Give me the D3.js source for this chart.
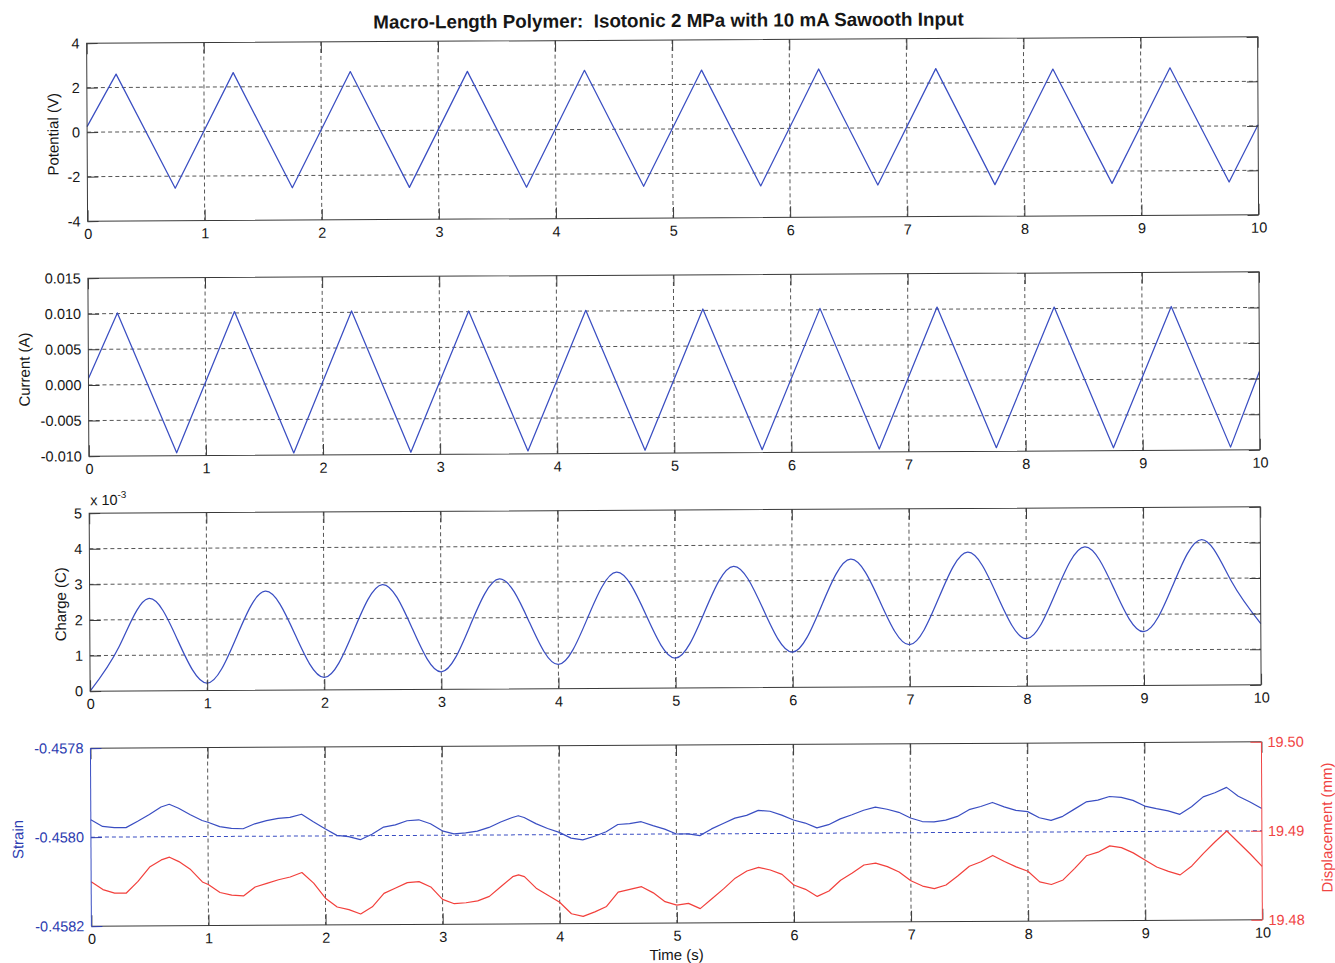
<!DOCTYPE html>
<html>
<head>
<meta charset="utf-8">
<script src="https://cdn.jsdelivr.net/npm/d3@7"></script>
<style>
  html, body { margin: 0; padding: 0; background: #fff; }
  svg { display: block; font-family: "Liberation Sans", Arial, Helvetica, sans-serif; }
</style>
</head>
<body>
<svg id="chart" width="1335" height="963"></svg>
<script>
// ---------- tick values ----------
const timeTicks = [0, 1, 2, 3, 4, 5, 6, 7, 8, 9, 10];
const potentialTicks = [-4, -2, 0, 2, 4];
const currentTicks = [-0.010, -0.005, 0, 0.005, 0.010, 0.015];
const chargeTicks = [0, 0.001, 0.002, 0.003, 0.004, 0.005];
const strainTicks = [-0.4582, -0.4580, -0.4578];
const displacementTicks = [19.48, 19.49, 19.50];

// ---------- sawtooth input: vertex times (s) ----------
const sawTime = [0, 0.25, 0.75, 1.25, 1.75, 2.25, 2.75, 3.25, 3.75, 4.25, 4.75,
                 5.25, 5.75, 6.25, 6.75, 7.25, 7.75, 8.25, 8.75, 9.25, 9.75, 10];
// potential (V)
const potential = [0.25, 2.60, -2.54, 2.64, -2.55, 2.66, -2.56, 2.64, -2.58, 2.66, -2.57,
                   2.64, -2.58, 2.66, -2.57, 2.65, -2.58, 2.60, -2.55, 2.63, -2.52, 0.05];
// current (A)
const current = [0.0009, 0.0101, -0.0096, 0.0102, -0.0097, 0.0102, -0.0097, 0.0101, -0.0096, 0.0101, -0.0096,
                 0.0102, -0.0096, 0.0102, -0.0096, 0.0103, -0.0095, 0.0102, -0.0096, 0.0102, -0.0096, 0.0010];

// ---------- charge (C) ----------
const chargeTime = [0, 0.25, 0.5, 0.75, 1, 1.25, 1.5, 1.75, 2, 2.25, 2.5, 2.75, 3, 3.25, 3.5, 3.75,
                    4, 4.25, 4.5, 4.75, 5, 5.25, 5.5, 5.75, 6, 6.25, 6.5, 6.75, 7, 7.25, 7.5, 7.75,
                    8, 8.25, 8.5, 8.75, 9, 9.25, 9.5, 9.75, 10];
const charge = [0.00000, 0.00125, 0.00259, 0.00142, 0.00021, 0.00148, 0.00278, 0.00158, 0.00035,
                0.00163, 0.00295, 0.00174, 0.00049, 0.00180, 0.00309, 0.00190, 0.00068, 0.00197,
                0.00326, 0.00206, 0.00084, 0.00213, 0.00341, 0.00221, 0.00099, 0.00229, 0.00359,
                0.00239, 0.00118, 0.00248, 0.00377, 0.00255, 0.00133, 0.00262, 0.00390, 0.00271,
                0.00151, 0.00280, 0.00409, 0.00292, 0.00172];

// ---------- strain / displacement ----------
const motionTime = [0, 0.1, 0.2, 0.3, 0.4, 0.5, 0.6, 0.67, 0.75, 0.85, 0.95, 1.0,
  1.1, 1.2, 1.3, 1.4, 1.5, 1.6, 1.7, 1.8, 1.9, 2.0,
  2.1, 2.2, 2.3, 2.4, 2.5, 2.6, 2.7, 2.8, 2.9, 3.0,
  3.1, 3.2, 3.3, 3.4, 3.5, 3.6, 3.65, 3.7, 3.8, 3.9, 4.0,
  4.1, 4.2, 4.3, 4.4, 4.5, 4.6, 4.7, 4.8, 4.9, 5.0,
  5.1, 5.2, 5.3, 5.4, 5.5, 5.6, 5.7, 5.8, 5.9, 6.0,
  6.1, 6.2, 6.3, 6.4, 6.5, 6.6, 6.7, 6.8, 6.9, 7.0,
  7.1, 7.2, 7.3, 7.4, 7.5, 7.6, 7.7, 7.8, 7.9, 8.0,
  8.1, 8.2, 8.3, 8.4, 8.5, 8.6, 8.7, 8.8, 8.9, 9.0,
  9.1, 9.2, 9.3, 9.4, 9.5, 9.6, 9.7, 9.8, 9.9, 10.0];
const strain = [-0.457961, -0.457976, -0.457979, -0.457979, -0.457965, -0.457950, -0.457933, -0.457927, -0.457936, -0.457951, -0.457964, -0.457968,
  -0.457978, -0.457982, -0.457983, -0.457972, -0.457965, -0.457960, -0.457958, -0.457951, -0.457968, -0.457984,
  -0.457999, -0.458002, -0.458009, -0.457997, -0.457981, -0.457976, -0.457967, -0.457965, -0.457974, -0.457990,
  -0.457997, -0.457995, -0.457991, -0.457983, -0.457971, -0.457961, -0.457957, -0.457961, -0.457975, -0.457986, -0.457995,
  -0.458008, -0.458012, -0.458004, -0.457994, -0.457978, -0.457976, -0.457972, -0.457981, -0.457989, -0.458000,
  -0.458000, -0.458004, -0.457989, -0.457977, -0.457965, -0.457959, -0.457948, -0.457950, -0.457959, -0.457970,
  -0.457977, -0.457988, -0.457981, -0.457968, -0.457959, -0.457949, -0.457942, -0.457947, -0.457954, -0.457967,
  -0.457975, -0.457976, -0.457972, -0.457964, -0.457949, -0.457942, -0.457933, -0.457943, -0.457951, -0.457954,
  -0.457968, -0.457974, -0.457965, -0.457949, -0.457933, -0.457929, -0.457921, -0.457923, -0.457930, -0.457943,
  -0.457949, -0.457954, -0.457962, -0.457945, -0.457923, -0.457914, -0.457902, -0.457922, -0.457935, -0.457950];
const displacement = [19.4850, 19.4841, 19.4837, 19.4837, 19.4850, 19.4866, 19.4874, 19.4877, 19.4872, 19.4863, 19.4849, 19.4846,
  19.4837, 19.4834, 19.4833, 19.4843, 19.4847, 19.4851, 19.4854, 19.4859, 19.4847, 19.4830,
  19.4820, 19.4817, 19.4812, 19.4820, 19.4835, 19.4841, 19.4847, 19.4848, 19.4842, 19.4828,
  19.4823, 19.4824, 19.4826, 19.4831, 19.4842, 19.4853, 19.4855, 19.4853, 19.4840, 19.4832, 19.4824,
  19.4811, 19.4808, 19.4813, 19.4819, 19.4835, 19.4838, 19.4841, 19.4834, 19.4824, 19.4820,
  19.4822, 19.4816, 19.4827, 19.4838, 19.4850, 19.4858, 19.4862, 19.4859, 19.4854, 19.4842,
  19.4837, 19.4829, 19.4835, 19.4847, 19.4855, 19.4864, 19.4866, 19.4862, 19.4856, 19.4846,
  19.4840, 19.4837, 19.4841, 19.4851, 19.4862, 19.4867, 19.4874, 19.4867, 19.4861, 19.4856,
  19.4844, 19.4841, 19.4846, 19.4859, 19.4873, 19.4877, 19.4884, 19.4882, 19.4876, 19.4868,
  19.4860, 19.4855, 19.4851, 19.4861, 19.4875, 19.4888, 19.4900, 19.4887, 19.4874, 19.4860];

// ---------- layout & style ----------
const plotLeft = 89, plotRight = 1260, panelH = 178;
const panelTops = [40, 275, 510, 745];
const tickLen = 11;
const frameColor = "#3a3a3a";
const gridColor = "#444";
const textColor = "#161616";
const lineBlue = "#3a4ec2";
const lineRed = "#f2403c";
const axisBlue = "#2c3cb0";
const axisRed = "#f04444";
const tickFont = 14.5;

const svg = d3.select("#chart");
svg.append("rect").attr("width", 1335).attr("height", 963).attr("fill", "#fff");
// the printed figure sits very slightly askew on the page
const root = svg.append("g").attr("transform", "rotate(-0.31,672,480)");

const x = d3.scaleLinear().domain([0, 10]).range([plotLeft, plotRight]);

function styleAxis(g, color) {
  g.attr("font-size", null).attr("font-family", null);
  g.select(".domain").remove();
  g.selectAll("line").attr("stroke", color).attr("stroke-width", 1);
  g.selectAll("text").attr("fill", color).attr("font-size", tickFont);
}

function xGrid(g, top) {
  g.append("g").selectAll("line")
    .data(timeTicks.slice(1, -1))
    .join("line")
    .attr("x1", d => x(d)).attr("x2", d => x(d))
    .attr("y1", top).attr("y2", top + panelH)
    .attr("stroke", gridColor).attr("stroke-width", 0.9)
    .attr("stroke-dasharray", "4,3");
}

function xAxes(g, top, color) {
  const bottom = g.append("g").attr("transform", `translate(0,${top + panelH})`)
    .call(d3.axisBottom(x).tickValues(timeTicks).tickSizeInner(-tickLen).tickSizeOuter(0)
      .tickPadding(7.5).tickFormat(d => String(d)));
  styleAxis(bottom, color);
  bottom.selectAll("text").attr("fill", textColor);
  const topAx = g.append("g").attr("transform", `translate(0,${top})`)
    .call(d3.axisTop(x).tickValues(timeTicks).tickSizeInner(-tickLen).tickSizeOuter(0).tickFormat(""));
  styleAxis(topAx, color);
}

// standard single-axis panel
function drawPanel(opts) {
  const top = opts.top;
  const g = root.append("g");
  const y = d3.scaleLinear().domain(opts.domain).range([top + panelH, top]);

  xGrid(g, top);
  g.append("g").selectAll("line")
    .data(opts.ticks.filter(d => d > opts.domain[0] && d < opts.domain[1]))
    .join("line")
    .attr("x1", plotLeft).attr("x2", plotRight)
    .attr("y1", d => y(d)).attr("y2", d => y(d))
    .attr("stroke", gridColor).attr("stroke-width", 0.9)
    .attr("stroke-dasharray", "4,3");

  const line = d3.line()
    .x((d, i) => x(opts.xs[i]))
    .y(d => y(d))
    .curve(opts.curve || d3.curveLinear);
  g.append("path").datum(opts.ys)
    .attr("d", line)
    .attr("fill", "none").attr("stroke", lineBlue).attr("stroke-width", 1.25)
    .attr("stroke-linejoin", "round");

  g.append("rect").attr("x", plotLeft).attr("y", top)
    .attr("width", plotRight - plotLeft).attr("height", panelH)
    .attr("fill", "none").attr("stroke", frameColor).attr("stroke-width", 1);

  xAxes(g, top, frameColor);
  const left = g.append("g").attr("transform", `translate(${plotLeft},0)`)
    .call(d3.axisLeft(y).tickValues(opts.ticks).tickSizeInner(-tickLen).tickSizeOuter(0)
      .tickPadding(7).tickFormat(opts.format));
  styleAxis(left, frameColor);
  left.selectAll("text").attr("fill", textColor);
  const right = g.append("g").attr("transform", `translate(${plotRight},0)`)
    .call(d3.axisRight(y).tickValues(opts.ticks).tickSizeInner(-tickLen).tickSizeOuter(0).tickFormat(""));
  styleAxis(right, frameColor);

  g.append("text")
    .attr("transform", `translate(${opts.labelX},${top + panelH / 2 + 2}) rotate(-90)`)
    .attr("text-anchor", "middle").attr("dy", "0.35em")
    .attr("font-size", 15).attr("fill", textColor)
    .text(opts.label);
  return g;
}

drawPanel({
  top: panelTops[0], domain: [-4, 4], ticks: potentialTicks,
  format: d => String(d), xs: sawTime, ys: potential,
  label: "Potential (V)", labelX: 55
});

drawPanel({
  top: panelTops[1], domain: [-0.010, 0.015], ticks: currentTicks,
  format: d => d.toFixed(3), xs: sawTime, ys: current,
  label: "Current (A)", labelX: 25
});

const chargePanel = drawPanel({
  top: panelTops[2], domain: [0, 0.005], ticks: chargeTicks,
  format: d => String(Math.round(d * 1000)), xs: chargeTime, ys: charge,
  curve: d3.curveNatural,
  label: "Charge (C)", labelX: 60
});
// exponent note for the charge axis
const expo = chargePanel.append("text")
  .attr("x", plotLeft + 1).attr("y", panelTops[2] - 8)
  .attr("font-size", 14.5).attr("fill", textColor);
expo.append("tspan").text("x 10");
expo.append("tspan").attr("dy", -7).attr("font-size", 10).text("-3");

// ---------- strain / displacement panel (two y axes) ----------
(function () {
  const top = panelTops[3];
  const g = root.append("g");
  const ys = d3.scaleLinear().domain([-0.4582, -0.4578]).range([top + panelH, top]);
  const yd = d3.scaleLinear().domain([19.48, 19.50]).range([top + panelH, top]);

  xGrid(g, top);
  g.append("line")
    .attr("x1", plotLeft).attr("x2", plotRight)
    .attr("y1", ys(-0.4580)).attr("y2", ys(-0.4580))
    .attr("stroke", lineBlue).attr("stroke-width", 1)
    .attr("stroke-dasharray", "4,3");

  const strainLine = d3.line().x((d, i) => x(motionTime[i])).y(d => ys(d));
  const dispLine = d3.line().x((d, i) => x(motionTime[i])).y(d => yd(d));
  g.append("path").datum(strain).attr("d", strainLine)
    .attr("fill", "none").attr("stroke", lineBlue).attr("stroke-width", 1.2)
    .attr("stroke-linejoin", "round");
  g.append("path").datum(displacement).attr("d", dispLine)
    .attr("fill", "none").attr("stroke", lineRed).attr("stroke-width", 1.2)
    .attr("stroke-linejoin", "round");

  // top and bottom borders
  g.append("line").attr("x1", plotLeft).attr("x2", plotRight).attr("y1", top).attr("y2", top)
    .attr("stroke", frameColor).attr("stroke-width", 1);
  g.append("line").attr("x1", plotLeft).attr("x2", plotRight).attr("y1", top + panelH).attr("y2", top + panelH)
    .attr("stroke", frameColor).attr("stroke-width", 1);
  xAxes(g, top, frameColor);

  const left = g.append("g").attr("transform", `translate(${plotLeft},0)`)
    .call(d3.axisLeft(ys).tickValues(strainTicks).tickSizeInner(-tickLen).tickSizeOuter(0)
      .tickPadding(7).tickFormat(d => d.toFixed(4)));
  styleAxis(left, axisBlue);
  g.append("line").attr("x1", plotLeft).attr("x2", plotLeft).attr("y1", top).attr("y2", top + panelH)
    .attr("stroke", lineBlue).attr("stroke-width", 1);

  const right = g.append("g").attr("transform", `translate(${plotRight},0)`)
    .call(d3.axisRight(yd).tickValues(displacementTicks).tickSizeInner(-tickLen).tickSizeOuter(0)
      .tickPadding(6).tickFormat(d => d.toFixed(2)));
  styleAxis(right, axisRed);
  g.append("line").attr("x1", plotRight).attr("x2", plotRight).attr("y1", top).attr("y2", top + panelH)
    .attr("stroke", axisRed).attr("stroke-width", 1);

  g.append("text")
    .attr("transform", `translate(16,${top + panelH / 2 + 2}) rotate(-90)`)
    .attr("text-anchor", "middle").attr("dy", "0.35em")
    .attr("font-size", 15).attr("fill", axisBlue)
    .text("Strain");
  g.append("text")
    .attr("transform", `translate(1325,${top + panelH / 2 - 3}) rotate(-90)`)
    .attr("text-anchor", "middle").attr("dy", "0.35em")
    .attr("font-size", 15).attr("fill", axisRed)
    .text("Displacement (mm)");

  g.append("text")
    .attr("x", 674).attr("y", 960)
    .attr("text-anchor", "middle").attr("font-size", 15).attr("fill", textColor)
    .text("Time (s)");
})();

// ---------- title ----------
const title = root.append("text")
  .attr("x", 671).attr("y", 27)
  .attr("text-anchor", "middle")
  .attr("font-weight", "bold").attr("font-size", 16).attr("fill", textColor)
  .style("white-space", "pre")
  .text("Macro-Length Polymer:  Isotonic 2 MPa with 10 mA Sawooth Input");
const tw = title.node().getComputedTextLength();
if (tw > 0) title.attr("font-size", 16 * 591 / tw);
</script>
</body>
</html>
